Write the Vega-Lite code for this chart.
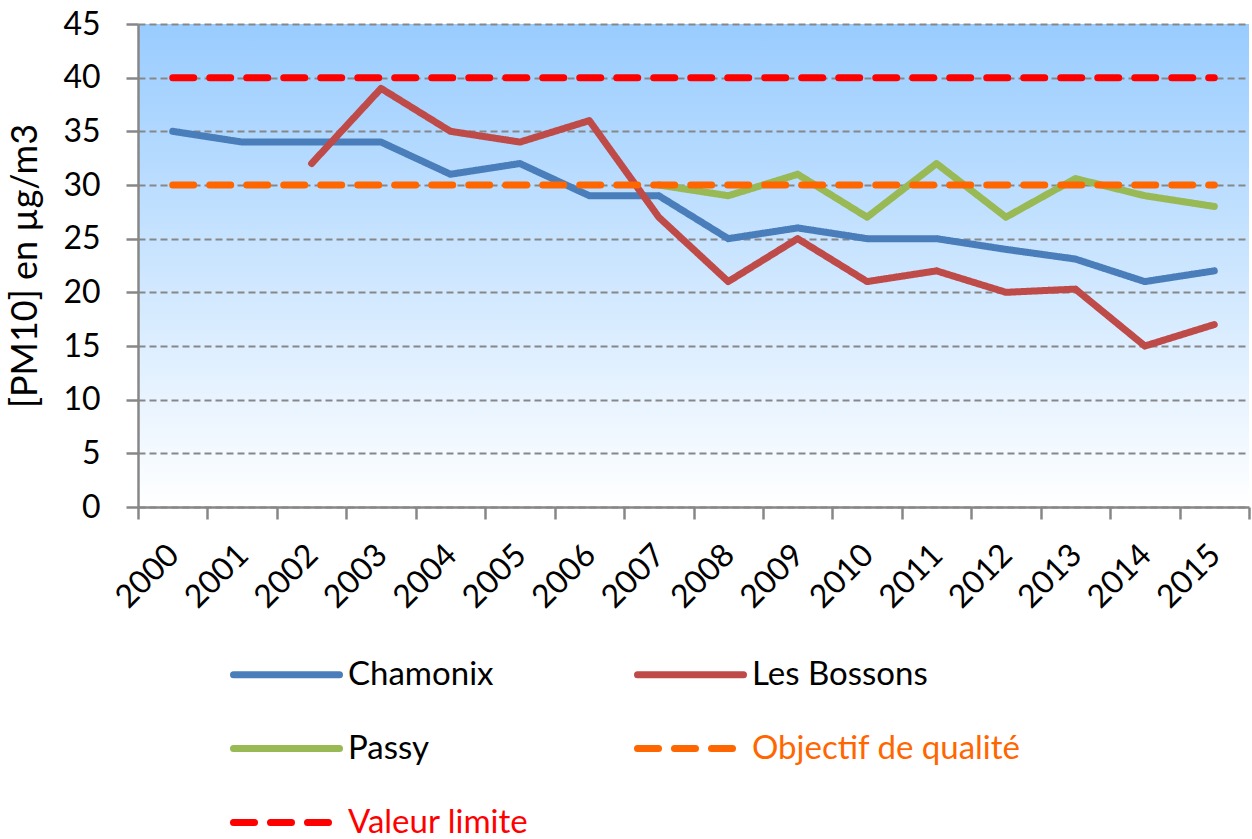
{
  "$schema": "https://vega.github.io/schema/vega-lite/v6.json",
  "width": 1111,
  "height": 483,
  "autosize": "none",
  "padding": {"left": 138, "top": 24, "right": 3, "bottom": 332},
  "background": "white",
  "config": {
    "font": "Lato",
    "view": {
      "stroke": null,
      "fill": {
        "gradient": "linear",
        "x1": 0, "y1": 0, "x2": 0, "y2": 1,
        "stops": [
          {"offset": 0, "color": "#99CCFF"},
          {"offset": 1, "color": "#FFFFFF"}
        ]
      }
    },
    "axis": {
      "domainColor": "#878787",
      "domainWidth": 2.5,
      "tickColor": "#878787",
      "tickWidth": 2.5,
      "tickSize": 12,
      "labelFont": "Lato",
      "labelFontSize": 32,
      "labelColor": "#000000",
      "titleFont": "Lato",
      "titleFontSize": 36,
      "titleFontWeight": "normal",
      "titleColor": "#000000"
    }
  },
  "data": {
    "values": [
      {"series": "Chamonix", "year": "2000", "value": 35},
      {"series": "Chamonix", "year": "2001", "value": 34},
      {"series": "Chamonix", "year": "2002", "value": 34},
      {"series": "Chamonix", "year": "2003", "value": 34},
      {"series": "Chamonix", "year": "2004", "value": 31},
      {"series": "Chamonix", "year": "2005", "value": 32},
      {"series": "Chamonix", "year": "2006", "value": 29},
      {"series": "Chamonix", "year": "2007", "value": 29},
      {"series": "Chamonix", "year": "2008", "value": 25},
      {"series": "Chamonix", "year": "2009", "value": 26},
      {"series": "Chamonix", "year": "2010", "value": 25},
      {"series": "Chamonix", "year": "2011", "value": 25},
      {"series": "Chamonix", "year": "2012", "value": 24},
      {"series": "Chamonix", "year": "2013", "value": 23.1},
      {"series": "Chamonix", "year": "2014", "value": 21},
      {"series": "Chamonix", "year": "2015", "value": 22},
      {"series": "Les Bossons", "year": "2002", "value": 32},
      {"series": "Les Bossons", "year": "2003", "value": 39},
      {"series": "Les Bossons", "year": "2004", "value": 35},
      {"series": "Les Bossons", "year": "2005", "value": 34},
      {"series": "Les Bossons", "year": "2006", "value": 36},
      {"series": "Les Bossons", "year": "2007", "value": 27},
      {"series": "Les Bossons", "year": "2008", "value": 21},
      {"series": "Les Bossons", "year": "2009", "value": 25},
      {"series": "Les Bossons", "year": "2010", "value": 21},
      {"series": "Les Bossons", "year": "2011", "value": 22},
      {"series": "Les Bossons", "year": "2012", "value": 20},
      {"series": "Les Bossons", "year": "2013", "value": 20.3},
      {"series": "Les Bossons", "year": "2014", "value": 15},
      {"series": "Les Bossons", "year": "2015", "value": 17},
      {"series": "Passy", "year": "2007", "value": 30},
      {"series": "Passy", "year": "2008", "value": 29},
      {"series": "Passy", "year": "2009", "value": 31},
      {"series": "Passy", "year": "2010", "value": 27},
      {"series": "Passy", "year": "2011", "value": 32},
      {"series": "Passy", "year": "2012", "value": 27},
      {"series": "Passy", "year": "2013", "value": 30.6},
      {"series": "Passy", "year": "2014", "value": 29},
      {"series": "Passy", "year": "2015", "value": 28},
      {"series": "Objectif de qualité", "year": "2000", "value": 30},
      {"series": "Objectif de qualité", "year": "2015", "value": 30},
      {"series": "Valeur limite", "year": "2000", "value": 40},
      {"series": "Valeur limite", "year": "2015", "value": 40}
    ]
  },
  "mark": {"type": "line", "strokeWidth": 7, "strokeCap": "round", "strokeJoin": "round"},
  "encoding": {
    "x": {
      "field": "year",
      "type": "ordinal",
      "bandPosition": 0.5,
      "scale": {
        "type": "band",
        "paddingInner": 0,
        "paddingOuter": 0,
        "domain": ["2000","2001","2002","2003","2004","2005","2006","2007","2008","2009","2010","2011","2012","2013","2014","2015"]
      },
      "axis": {
        "title": null,
        "tickBand": "extent",
        "labelAngle": -45,
        "labelPadding": 20,
        "labelOffset": -10,
        "grid": false
      }
    },
    "y": {
      "field": "value",
      "type": "quantitative",
      "scale": {"domain": [0, 45], "nice": false},
      "axis": {
        "title": "[PM10] en µg/m3",
        "values": [0, 5, 10, 15, 20, 25, 30, 35, 40, 45],
        "grid": true,
        "gridColor": "#878787",
        "gridWidth": 2,
        "gridDash": [7, 4],
        "labelPadding": 26,
        "titlePadding": 18
      }
    },
    "color": {
      "field": "series",
      "type": "nominal",
      "scale": {
        "domain": ["Chamonix", "Les Bossons", "Passy", "Objectif de qualité", "Valeur limite"],
        "range": ["#4A7EBB", "#BE4B48", "#98B954", "#FF6600", "#FF0000"]
      },
      "legend": {
        "title": null,
        "orient": "none",
        "direction": "horizontal",
        "legendX": 92,
        "legendY": 594,
        "columns": 2,
        "columnPadding": 94,
        "rowPadding": -40,
        "padding": 0,
        "symbolType": "stroke",
        "symbolSize": 11236,
        "symbolStrokeWidth": 7,
        "labelFontSize": 33,
        "labelFont": "Lato",
        "labelOffset": 5,
        "labelLimit": 400,
        "encode": {
          "symbols": {"update": {"strokeCap": {"value": "round"}}},
          "labels": {
            "update": {
              "fill": {"signal": "datum.label == 'Objectif de qualité' ? '#FF6600' : datum.label == 'Valeur limite' ? '#FF0000' : '#000000'"}
            }
          }
        }
      }
    },
    "strokeDash": {
      "field": "series",
      "type": "nominal",
      "scale": {
        "domain": ["Chamonix", "Les Bossons", "Passy", "Objectif de qualité", "Valeur limite"],
        "range": [[1, 0], [1, 0], [1, 0], [21, 16], [21, 16]]
      },
      "legend": null
    }
  }
}
